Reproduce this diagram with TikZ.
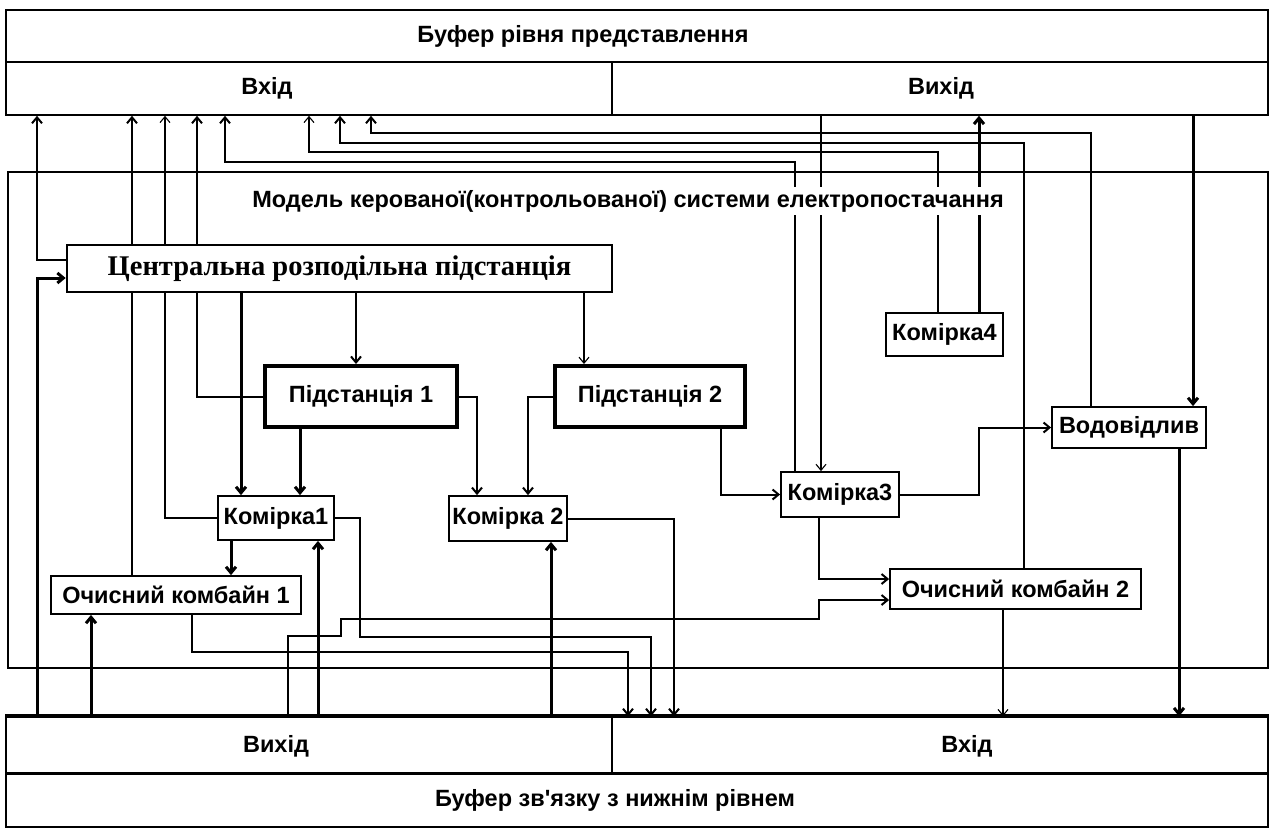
\documentclass[tikz,border=0pt]{standalone}
\usepackage{fontspec}
\setmainfont{Liberation Sans}
\newfontfamily\serifbold{Liberation Serif}
\usetikzlibrary{arrows.meta}
\pgfdeclarelayer{background}
\pgfsetlayers{background,main}

\begin{document}
\begin{tikzpicture}[
  x=1pt, y=-1pt,
  font=\bfseries\fontsize{23.5}{26}\selectfont,
  >={Straight Barb[length=6pt,width=10pt]},
  bufferCell/.style={draw,line width=1.5pt,inner sep=0pt},
  bufferText/.style={inner sep=0pt},
  unitBox/.style={draw,line width=1.8pt,fill=white,inner sep=1pt},
  substationBox/.style={unitBox,line width=4pt},
  mainBox/.style={unitBox,line width=2.6pt,font=\serifbold\bfseries\fontsize{28.5}{31}\selectfont},
  thinLink/.style={line width=1.1pt},
  link/.style={line width=2pt},
  boldLink/.style={line width=3pt}]

  \useasboundingbox (0,0) rectangle (1270,831);

  % buffer of the presentation level
  \node[bufferCell,minimum width=1262,minimum height=52] (topBuf) at (637,36) {};
  \node[bufferCell,minimum width=606,minimum height=53] (topIn) at (309,88.5) {};
  \node[bufferCell,minimum width=656,minimum height=53] (topOut) at (940,88.5) {};
  \node[bufferText] (topBufLbl) at (583,36) {Буфер рівня представлення};
  \node[bufferText] (topInLbl) at (267,88) {Вхід};
  \node[bufferText] (topOutLbl) at (941,88) {Вихід};

  % model frame
  \node[draw,line width=2pt,inner sep=0pt,minimum width=1260,minimum height=496] (model) at (638,420) {};

  % buffer of the lower level
  \node[bufferCell,minimum width=606,minimum height=56] (botOut) at (309,745) {};
  \node[bufferCell,minimum width=656,minimum height=56] (botIn) at (940,745) {};
  \node[bufferCell,minimum width=1262,minimum height=54] (botBuf) at (637,800) {};
  \draw[line width=3.8pt] (botOut.north west) -- (botIn.north east);
  \draw[line width=2.8pt] (botOut.south west) -- (botIn.south east);
  \node[bufferText] (botOutLbl) at (276,746) {Вихід};
  \node[bufferText] (botInLbl) at (967,746) {Вхід};
  \node[bufferText] (botBufLbl) at (615,800) {Буфер зв\textquotesingle язку з нижнім рівнем};

  % units
  \node[mainBox,minimum width=545,minimum height=47] (crp) at (339.5,268.5) {Центральна розподільна підстанція};
  \node[substationBox,minimum width=192,minimum height=61] (ps1) at (361,396.5) {Підстанція 1};
  \node[substationBox,minimum width=190,minimum height=61] (ps2) at (650,396.5) {Підстанція 2};
  \node[unitBox,minimum width=116,minimum height=44] (kom1) at (276,518) {Комірка1};
  \node[unitBox,minimum width=118,minimum height=45] (kom2) at (508,518.5) {Комірка 2};
  \node[unitBox,minimum width=250,minimum height=38] (ok1) at (176,595) {Очисний комбайн 1};
  \node[unitBox,minimum width=117,minimum height=43] (kom4) at (944.5,334.5) {Комірка4};
  \node[unitBox,minimum width=154,minimum height=41] (vod) at (1129,427.5) {Водовідлив};
  \node[unitBox,minimum width=118,minimum height=45] (kom3) at (840,494.5) {Комірка3};
  \node[unitBox,minimum width=251,minimum height=40] (ok2) at (1015.5,589) {Очисний комбайн 2};

  \begin{pgfonlayer}{background}
  % up to the presentation buffer
  \draw[link,->] ([yshift=8.5pt]crp.west) -| (topIn.south -| 37,0);
  \draw[link,->] (ok1.north -| 132,0) -- (topIn.south -| 132,0);
  \draw[thinLink,->] (kom1.west) -| (topIn.south -| 165,0);
  \draw[link,->] (ps1.west) -| (topIn.south -| 197,0);
  \draw[link,->] (kom3.north -| 795,0) |- (225,162) -- (topIn.south -| 225,0);
  \draw[thinLink,->] (kom4.north -| 938,0) |- (309,152) -- (topIn.south -| 309,0);
  \draw[link,->] (ok2.north -| 1024,0) |- (340,143) -- (topIn.south -| 340,0);
  \draw[link,->] (vod.north -| 1091,0) |- (371,133) -- (topIn.south -| 371,0);
  \draw[thinLink,->] (topOut.south -| 821,0) -- (kom3.north -| 821,0);
  \draw[boldLink,->] (kom4.north -| 979,0) -- (topOut.south -| 979,0);
  \draw[boldLink,->] (topOut.south -| 1193,0) -- (vod.north -| 1193,0);

  % inside the model
  \draw[boldLink,->] (crp.south -| 241,0) -- (kom1.north -| 241,0);
  \draw[link,->] (crp.south -| 356,0) -- (ps1.north -| 356,0);
  \draw[thinLink,->] (crp.south -| 584,0) -- (ps2.north -| 584,0);
  \draw[boldLink,->] (ps1.south -| 300,0) -- (kom1.north -| 300,0);
  \draw[link,->] (ps1.east) -| (kom2.north -| 477,0);
  \draw[link,->] (ps2.west) -| (kom2.north -| 528,0);
  \draw[link,->] (ps2.south -| 721,0) |- (kom3.west);
  \draw[link,->] (kom3.east) -| ([xshift=-72pt]vod.west) -- (vod.west);
  \draw[link,->] (kom3.south -| 819,0) |- ([yshift=10pt]ok2.west);
  \draw[boldLink,->] (kom1.south -| 231,0) -- (ok1.north -| 231,0);

  % from and to the lower buffer
  \draw[boldLink,->] (botOut.north -| 37,0) |- ([yshift=-9.5pt]crp.west);
  \draw[boldLink,->] (botOut.north -| 91,0) -- (ok1.south -| 91,0);
  \draw[boldLink,->] (botOut.north -| 318,0) -- (kom1.south -| 318,0);
  \draw[boldLink,->] (botOut.north -| 551,0) -- (kom2.south -| 551,0);
  \draw[link,->] (botOut.north -| 288,0) |- (341,636) |- (819,619) |- ([yshift=-11pt]ok2.west);
  \draw[link,->] (ok1.south -| 192,0) |- (628,652) -- (botIn.north -| 628,0);
  \draw[link,->] (kom1.east) -| (360,637) -| (botIn.north -| 651,0);
  \draw[link,->] (kom2.east) -| (botIn.north -| 674,0);
  \draw[thinLink,->] (ok2.south -| 1003,0) -- (botIn.north -| 1003,0);
  \draw[boldLink,->] (vod.south -| 1179,0) -- (botIn.north -| 1179,0);
  \end{pgfonlayer}

  \node[fill=white,inner sep=3pt] (modelTitle) at (628,201) {Модель керованої(контрольованої) системи електропостачання};
\end{tikzpicture}
\end{document}
